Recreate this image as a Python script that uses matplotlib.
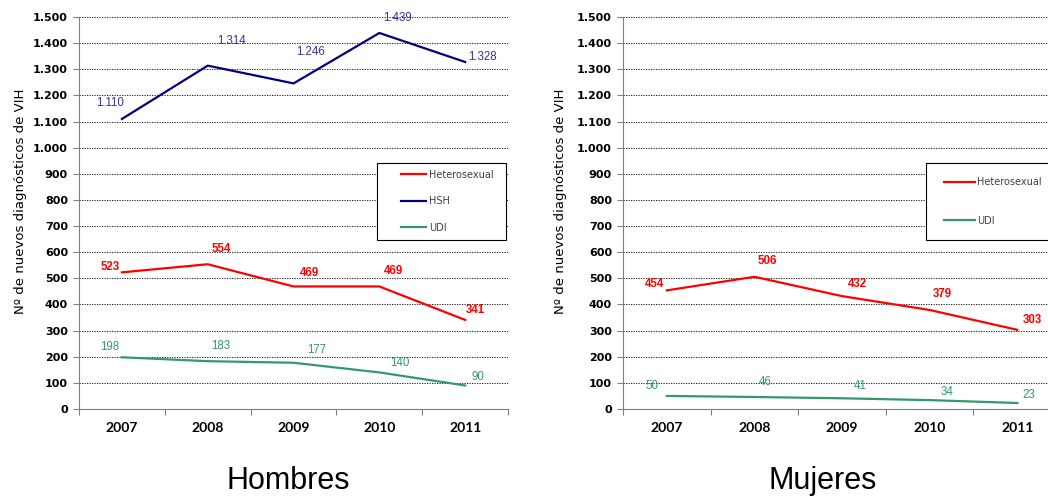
import matplotlib
matplotlib.use('Agg')
import matplotlib.pyplot as plt
from matplotlib.patches import Rectangle

# datos
years = ['2007', '2008', '2009', '2010', '2011']
hombres_hetero = [523, 554, 469, 469, 341]
hombres_hsh = [1110, 1314, 1246, 1439, 1328]
hombres_udi = [198, 183, 177, 140, 90]
mujeres_hetero = [454, 506, 432, 379, 303]
mujeres_udi = [50, 46, 41, 34, 23]
yticks = [0, 100, 200, 300, 400, 500, 600, 700, 800, 900, 1000, 1100, 1200, 1300, 1400, 1500]

RED = '#FF0000'
NAVY = '#000080'
BLUE_TXT = '#333399'
GREEN = '#339966'

# label offsets (pixels)
off_h_hsh = [(-12, 16), (24, 25), (17, 31), (18, 15), (17, 5)]
off_h_het = [(-12, 5), (14, 15), (16, 13), (14, 15), (10, 10)]
off_h_udi = [(-12, 10), (13, 15), (23, 13), (21, 9), (13, 8)]
off_m_het = [(-12, 6), (13, 16), (15, 12), (13, 16), (15, 10)]
off_m_udi = [(-15, 10), (11, 15), (18, 12), (17, 8), (12, 8)]


def fmt(v):
    return f'{v:,}'.replace(',', '.')


def setup(ax):
    ax.set_xlim(-0.5, 4.5)
    ax.set_ylim(0, 1500)
    ax.set_yticks(yticks)
    ax.set_yticklabels([fmt(v) for v in yticks], fontsize=8, fontweight='bold')
    ax.set_xticks([-0.5, 0.5, 1.5, 2.5, 3.5, 4.5])
    ax.set_xticklabels([])
    ax.set_xticks(range(5), minor=True)
    ax.set_xticklabels(years, minor=True, fontsize=10, fontweight='bold', family='Lato')
    ax.tick_params(axis='x', which='major', length=4, color='#808080', direction='out')
    ax.tick_params(axis='x', which='minor', length=0, pad=9)
    ax.tick_params(axis='y', length=4, color='#808080', pad=4)
    for s in ['top', 'right']:
        ax.spines[s].set_visible(False)
    ax.spines['left'].set_color('#808080')
    ax.spines['bottom'].set_color('#808080')
    ax.grid(axis='y', color='black', linestyle=(0, (1.5, 1.5)), linewidth=0.6)
    ax.set_axisbelow(True)
    ax.set_ylabel('Nº de nuevos diagnósticos de VIH', fontsize=9.5)


def labels(ax, vals, offs, color, weight='normal'):
    for i, v in enumerate(vals):
        ax.annotate(fmt(v), (i, v), xytext=offs[i], textcoords='offset pixels',
                    ha='center', va='center', fontsize=8.3, color=color,
                    fontweight=weight, family='Liberation Sans', annotation_clip=False)


fig = plt.figure(figsize=(10.48, 4.98), dpi=100)
ax1 = fig.add_axes([0.0754, 0.1787, 0.4094, 0.7871])
ax2 = fig.add_axes([0.5945, 0.1787, 0.418, 0.7871])

for ax in (ax1, ax2):
    setup(ax)

x = range(len(years))
ax1.plot(x, hombres_hetero, color=RED, lw=1.6, label='Heterosexual')
ax1.plot(x, hombres_hsh, color=NAVY, lw=1.6, label='HSH')
ax1.plot(x, hombres_udi, color=GREEN, lw=1.6, label='UDI')
labels(ax1, hombres_hsh, off_h_hsh, BLUE_TXT)
labels(ax1, hombres_hetero, off_h_het, RED, 'bold')
labels(ax1, hombres_udi, off_h_udi, GREEN)

ax2.plot(x, mujeres_hetero, color=RED, lw=1.6, label='Heterosexual')
ax2.plot(x, mujeres_udi, color=GREEN, lw=1.6, label='UDI')
labels(ax2, mujeres_hetero, off_m_het, RED, 'bold')
labels(ax2, mujeres_udi, off_m_udi, GREEN)

ax1.yaxis.set_label_coords(-0.121, 0.531)
ax2.yaxis.set_label_coords(-0.128, 0.531)

# legend boxes
ax1.add_patch(Rectangle((0.695, 0.431), 0.3, 0.197, transform=ax1.transAxes,
                        fill=True, facecolor='white', edgecolor='black', lw=0.8,
                        zorder=4, clip_on=False))
leg1 = ax1.legend(loc='upper left', bbox_to_anchor=(0.735, 0.628), frameon=False,
                  fontsize=7, handlelength=2.6, handletextpad=0.3,
                  labelspacing=1.7, borderpad=0.7, borderaxespad=0)
ax2.add_patch(Rectangle((0.692, 0.431), 0.3, 0.197, transform=ax2.transAxes,
                        fill=True, facecolor='white', edgecolor='black', lw=0.8,
                        zorder=4, clip_on=False))
leg2 = ax2.legend(loc='upper left', bbox_to_anchor=(0.700, 0.628), frameon=False,
                  fontsize=7, handlelength=3.2, handletextpad=0.2,
                  labelspacing=2.9, borderpad=1.5, borderaxespad=0)
for leg in (leg1, leg2):
    leg.set_zorder(5)
    for t in leg.get_texts():
        t.set_color('#404040')

fig.text(288 / 1048, 0.034, 'Hombres', ha='center', va='center', fontsize=22,
         family='Liberation Sans')
fig.text(823 / 1048, 0.034, 'Mujeres', ha='center', va='center', fontsize=22,
         family='Liberation Sans')

fig.savefig('out.png', dpi=100)
